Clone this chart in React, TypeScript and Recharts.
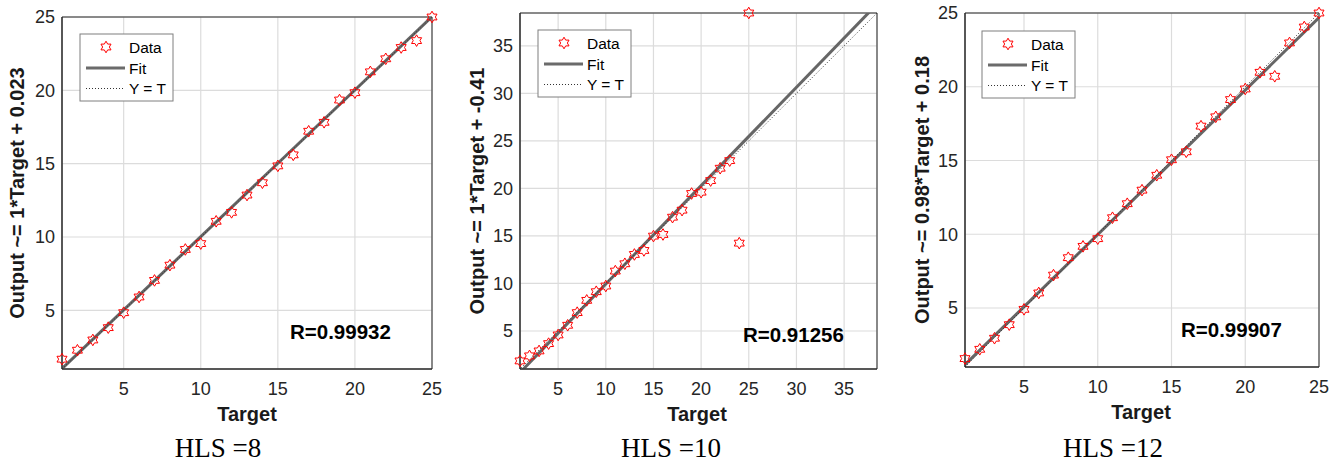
import React from 'react';
import { ScatterChart, Scatter, XAxis, YAxis, CartesianGrid, ReferenceLine, ReferenceArea } from 'recharts';

// Target values shared by all three panels
const targets = [1, 2, 3, 4, 5, 6, 7, 8, 9, 10, 11, 12, 13, 14, 15, 16, 17, 18, 19, 20, 21, 22, 23, 24, 25];

// Network outputs
const outputHls8 = [1.67, 2.28, 2.98, 3.82, 4.84, 5.91, 7.04, 8.08, 9.15, 9.55, 11.07, 11.68, 12.86, 13.7, 14.85, 15.6, 17.21, 17.82, 19.34, 19.84, 21.26, 22.15, 22.92, 23.39, 25.0];
const outputHls10 = [1.85, 2.38, 2.9, 3.67, 4.58, 5.6, 6.93, 8.22, 9.13, 9.73, 11.3, 12.07, 13.05, 13.47, 14.98, 15.15, 16.97, 17.71, 19.46, 19.6, 20.82, 22.12, 22.92, 14.24, 38.45];
const outputHls12 = [1.57, 2.2, 2.95, 3.87, 4.91, 6.02, 7.23, 8.41, 9.18, 9.7, 11.12, 12.07, 12.99, 14.0, 15.05, 15.59, 17.33, 17.96, 19.13, 19.85, 20.98, 20.71, 22.97, 24.05, 25.0];

// Regression fits
const fitHls8 = { slope: 1.0, intercept: 0.023 };
const fitHls10 = { slope: 1.035, intercept: -0.41 };
const fitHls12 = { slope: 0.98, intercept: 0.18 };

const ticks25 = [5, 10, 15, 20, 25];
const ticks35 = [5, 10, 15, 20, 25, 30, 35];

const captions = ['HLS =8', 'HLS =10', 'HLS =12'];
const yLabels = ['Output ~= 1*Target + 0.023', 'Output ~= 1*Target + -0.41', 'Output ~= 0.98*Target + 0.18'];
const rValues = ['R=0.99932', 'R=0.91256', 'R=0.99907'];

const SANS = '"Liberation Sans", Arial, sans-serif';
const SERIF = '"Liberation Serif", "Times New Roman", serif';

const starPoints = (cx: number, cy: number) => {
  const R = 5.8;
  const r = R / Math.sqrt(3);
  const pts: string[] = [];
  for (let i = 0; i < 12; i++) {
    const a = ((-90 + i * 30) * Math.PI) / 180;
    const rr = i % 2 === 0 ? R : r;
    pts.push(`${cx + rr * Math.cos(a)},${cy + rr * Math.sin(a)}`);
  }
  return pts.join(' ');
};

const Hexagram = (props: any) => {
  const { cx, cy } = props;
  if (cx == null || cy == null) return null;
  return <polygon points={starPoints(cx, cy)} fill="none" stroke="#ff0000" strokeWidth={1} />;
};

const LegendBox = ({ x, y }: { x: number; y: number }) => (
  <g>
    <rect x={x} y={y} width={93} height={67} fill="#fff" stroke="#7f7f7f" strokeWidth={1} />
    <polygon points={starPoints(x + 26, y + 13)} fill="none" stroke="#ff0000" strokeWidth={1} />
    <text x={x + 49} y={y + 18.5} fontFamily={SANS} fontSize={15.5} fill="#000">Data</text>
    <line x1={x + 6} x2={x + 45} y1={y + 34} y2={y + 34} stroke="#6b6b6b" strokeWidth={3} />
    <text x={x + 49} y={y + 39.5} fontFamily={SANS} fontSize={15.5} fill="#000">Fit</text>
    <line x1={x + 6} x2={x + 45} y1={y + 54.5} y2={y + 54.5} stroke="#333" strokeWidth={1} strokeDasharray="1 2" />
    <text x={x + 49} y={y + 60} fontFamily={SANS} fontSize={15.5} fill="#000">Y = T</text>
  </g>
);

interface PanelProps {
  idx: number;
  left: number;
  width: number;
  margin: { top: number; right: number; bottom: number; left: number };
  outputs: number[];
  fit: { slope: number; intercept: number };
  domain: [number, number];
  ticks: number[];
  yLabelX: number;
  xLabelX: number;
  xLabelY: number;
  rX: number;
  rY: number;
  capX: number;
  legendX: number;
  legendY: number;
}

const Panel = (p: PanelProps) => {
  const data = targets.map((t, i) => ({ x: t, y: p.outputs[i] }));
  const [lo, hi] = p.domain;
  const top = p.margin.top;
  const bottom = 464 - p.margin.bottom - 40;
  const axisFont = { fontFamily: SANS, fontSize: 18, fill: '#262626' };
  return (
    <div style={{ position: 'absolute', left: p.left, top: 0, width: p.width, height: 464 }}>
      <ScatterChart width={p.width} height={464} margin={p.margin}>
        <CartesianGrid stroke="#dcdcdc" strokeWidth={1.2} />
        <XAxis
          type="number"
          dataKey="x"
          domain={p.domain}
          ticks={p.ticks}
          height={40}
          tickSize={0}
          tickMargin={13}
          tickLine={false}
          axisLine={{ stroke: '#262626' }}
          tick={axisFont}
        />
        <YAxis
          type="number"
          dataKey="y"
          domain={p.domain}
          ticks={p.ticks}
          width={50}
          tickSize={0}
          tickMargin={7}
          tickLine={false}
          axisLine={{ stroke: '#262626' }}
          tick={axisFont}
        />
        <ReferenceArea x1={lo} x2={hi} y1={lo} y2={hi} fill="none" stroke="#262626" strokeWidth={1} ifOverflow="visible" />
        <ReferenceLine
          segment={[{ x: 0, y: p.fit.intercept }, { x: 50, y: 50 * p.fit.slope + p.fit.intercept }]}
          stroke="#666666"
          strokeWidth={3}
          ifOverflow="hidden"
        />
        <ReferenceLine
          segment={[{ x: 0, y: 0 }, { x: 50, y: 50 }]}
          stroke="#333"
          strokeWidth={1}
          strokeDasharray="1 2"
          ifOverflow="hidden"
        />
        <Scatter data={data} shape={<Hexagram />} isAnimationActive={false} />
      </ScatterChart>
      <svg
        width={p.width}
        height={464}
        style={{ position: 'absolute', left: 0, top: 0, pointerEvents: 'none' }}
      >
        <LegendBox x={p.legendX} y={p.legendY} />
        <text
          x={p.yLabelX}
          y={(top + bottom) / 2}
          transform={`rotate(-90 ${p.yLabelX} ${(top + bottom) / 2})`}
          textAnchor="middle"
          dominantBaseline="central"
          fontFamily={SANS}
          fontWeight="bold"
          fontSize={20}
          fill="#1a1a1a"
        >
          {yLabels[p.idx]}
        </text>
        <text x={p.xLabelX} y={p.xLabelY} textAnchor="middle" fontFamily={SANS} fontWeight="bold" fontSize={20} fill="#1a1a1a">
          Target
        </text>
        <text x={p.rX} y={p.rY} fontFamily={SANS} fontWeight="bold" fontSize={20.5} fill="#000">
          {rValues[p.idx]}
        </text>
        <text x={p.capX} y={457} textAnchor="middle" fontFamily={SERIF} fontSize={27} fill="#000">
          {captions[p.idx]}
        </text>
      </svg>
    </div>
  );
};

export default function App() {
  return (
    <div style={{ position: 'absolute', left: 0, top: 0, width: 1341, height: 464, background: '#fff' }}>
      <Panel
        idx={0}
        left={0}
        width={450}
        margin={{ top: 17, right: 18, bottom: 55, left: 12 }}
        outputs={outputHls8}
        fit={fitHls8}
        domain={[1, 25]}
        ticks={ticks25}
        yLabelX={17}
        xLabelX={247}
        xLabelY={421}
        rX={290}
        rY={339}
        capX={218}
        legendX={80}
        legendY={34}
      />
      <Panel
        idx={1}
        left={450}
        width={450}
        margin={{ top: 13, right: 23, bottom: 55, left: 20 }}
        outputs={outputHls10}
        fit={fitHls10}
        domain={[1, 38.45]}
        ticks={ticks35}
        yLabelX={27}
        xLabelX={247}
        xLabelY={421}
        rX={293}
        rY={342}
        capX={221}
        legendX={88}
        legendY={30}
      />
      <Panel
        idx={2}
        left={895}
        width={446}
        margin={{ top: 13, right: 22, bottom: 57, left: 20 }}
        outputs={outputHls12}
        fit={fitHls12}
        domain={[1, 25]}
        ticks={ticks25}
        yLabelX={27}
        xLabelX={246}
        xLabelY={419}
        rX={286}
        rY={337}
        capX={218}
        legendX={87}
        legendY={31}
      />
    </div>
  );
}
